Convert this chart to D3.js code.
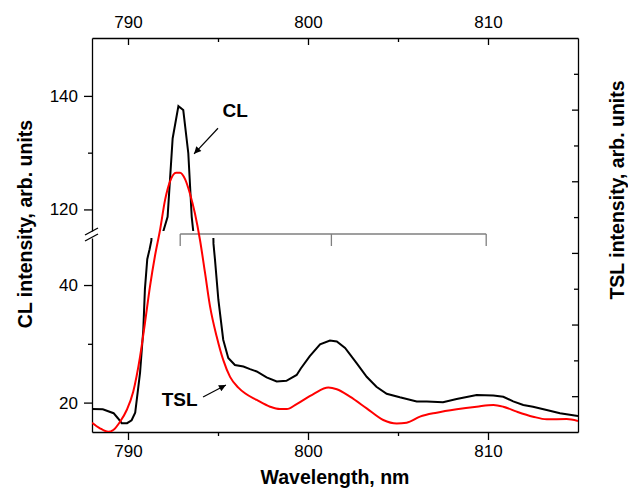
<!DOCTYPE html>
<html>
<head>
<meta charset="utf-8">
<script src="https://cdn.jsdelivr.net/npm/d3@7/dist/d3.min.js"></script>
<style>
  body { margin: 0; background: #fff; }
  text { font-family: "Liberation Sans", Arial, sans-serif; }
</style>
</head>
<body>
<script>
// CL spectrum (left, broken axis)
var clNm = [788.0, 788.6, 789.2, 789.45, 789.65, 789.95, 790.2, 790.4, 790.67, 790.85, 790.94, 791.07, 791.2, 791.3,
    791.9, 792.2, 792.48, 792.8, 793.07, 793.35, 793.54, 793.7, 794.65, 794.75, 794.83, 795.02, 795.29, 795.57, 795.94,
    796.41, 796.78, 797.15, 797.7, 798.26, 798.8, 799.37, 799.6, 800.1, 800.67, 801.22, 801.6, 802.06, 802.7, 803.26,
    803.8, 804.37, 805.1, 806.04, 806.6, 807.5, 808.26, 809.37, 810.3, 810.85, 811.4, 811.96, 812.5, 813.26, 814.0, 815.0];
var clInt = [18.9, 18.85, 18.2, 17.3, 16.5, 16.5, 17.0, 18.3, 25.1, 32.4, 39.3, 44.4, 46.1, 47.6,
    115.5, 118.7, 132.5, 138.2, 137.5, 129.9, 118.7, 113.9, 62, 47.0, 44.4, 37.5, 30.7, 27.6, 26.4,
    26.15, 25.7, 25.3, 24.3, 23.6, 23.7, 24.7, 25.8, 27.9, 29.9, 30.55, 30.4, 29.3, 26.7, 24.4,
    22.7, 21.5, 20.9, 20.2, 20.2, 20.07, 20.6, 21.3, 21.2, 21.0, 20.2, 19.6, 19.3, 18.75, 18.2, 17.7];

// TSL spectrum (right axis, unlabelled)
var tslNm = [788.0, 788.44, 788.9, 789.18, 789.56, 789.93, 790.29, 790.67, 790.94, 791.22, 791.5, 791.78, 792.06,
    792.33, 792.67, 792.89, 793.17, 793.44, 793.72, 794.0, 794.28, 794.56, 794.93, 795.29, 795.67, 796.13, 796.5,
    797.15, 797.89, 798.44, 798.82, 799.37, 800.3, 801.13, 801.6, 802.33, 803.26, 804.18, 804.93, 805.48, 806.22,
    807.15, 808.26, 809.37, 810.3, 810.85, 811.6, 812.5, 813.26, 814.37, 815.0];
var tslInt = [0.63, 0.552, 0.504, 0.528, 0.644, 0.807, 1.063, 1.552, 2.018, 2.53, 2.96, 3.32, 3.74,
    3.996, 4.12, 4.12, 4.03, 3.83, 3.55, 3.18, 2.72, 2.25, 1.83, 1.506, 1.27, 1.12, 1.04,
    0.947, 0.853, 0.82, 0.82, 0.89, 1.03, 1.12, 1.096, 0.993, 0.83, 0.668, 0.62, 0.63, 0.714,
    0.77, 0.817, 0.853, 0.877, 0.853, 0.784, 0.714, 0.677, 0.68, 0.654];

// peak markers (bracket) in nm
var peakNm = [792.9, 801.3, 809.9];

var xMajor = [790, 800, 810], xMinor = [795, 805];
var lowMajor = [20, 40], lowMinor = [30];
var highMajor = [120, 140], highMinor = [130];
var rightMajor = [1, 2, 3, 4, 5], rightMinor = [1.5, 2.5, 3.5, 4.5, 5.5];

var W = 628, H = 494;
var pLeft = 92, pRight = 578, pTop = 38, pBottom = 432;
var breakLow = 238, breakHigh = 231;

var svg = d3.select("body").append("svg").attr("width", W).attr("height", H);

var x = d3.scaleLinear().domain([788, 815]).range([pLeft, pRight]);
var yLow = d3.scaleLinear().domain([15, 48]).range([pBottom, breakLow]);
var yHigh = d3.scaleLinear().domain([116.2, 150.2]).range([breakHigh, pTop]);
var yR = d3.scaleLinear().domain([0.5, 6]).range([pBottom, pTop]);

var defs = svg.append("defs");
defs.append("clipPath").attr("id", "clipLow").append("rect")
    .attr("x", pLeft).attr("y", breakLow).attr("width", pRight - pLeft).attr("height", pBottom - breakLow);
defs.append("clipPath").attr("id", "clipHigh").append("rect")
    .attr("x", pLeft).attr("y", pTop).attr("width", pRight - pLeft).attr("height", breakHigh - pTop);
defs.append("clipPath").attr("id", "clipAll").append("rect")
    .attr("x", pLeft).attr("y", pTop).attr("width", pRight - pLeft).attr("height", pBottom - pTop);
defs.append("marker").attr("id", "arrow")
    .attr("viewBox", "0 0 10 10").attr("refX", 10).attr("refY", 5)
    .attr("markerWidth", 9).attr("markerHeight", 7).attr("markerUnits", "userSpaceOnUse")
    .attr("orient", "auto")
  .append("path").attr("d", "M0,0L10,5L0,10z").attr("fill", "#000");

var cl = clNm.map(function(d, i) { return [d, clInt[i]]; });
var tsl = tslNm.map(function(d, i) { return [d, tslInt[i]]; });

// axes
function axisStyle(g) {
    g.selectAll("path, line").attr("stroke", "#000").attr("stroke-width", 1.3);
    g.selectAll("text").style("font-size", "17px").attr("fill", "#000");
}

svg.append("g").attr("transform", "translate(0," + pBottom + ")")
    .call(d3.axisBottom(x).tickValues(xMajor).tickFormat(d3.format("d")).tickSize(8).tickPadding(5).tickSizeOuter(0))
    .call(axisStyle);
svg.append("g").attr("transform", "translate(0," + pBottom + ")")
    .call(d3.axisBottom(x).tickValues(xMinor).tickFormat("").tickSize(4).tickSizeOuter(0))
    .call(axisStyle).select(".domain").remove();

svg.append("g").attr("transform", "translate(0," + pTop + ")")
    .call(d3.axisTop(x).tickValues(xMajor).tickFormat(d3.format("d")).tickSize(-7).tickPadding(10).tickSizeOuter(0))
    .call(axisStyle);
svg.append("g").attr("transform", "translate(0," + pTop + ")")
    .call(d3.axisTop(x).tickValues(xMinor).tickFormat("").tickSize(-4).tickSizeOuter(0))
    .call(axisStyle).select(".domain").remove();

[[yLow, lowMajor, lowMinor], [yHigh, highMajor, highMinor]].forEach(function(a) {
    svg.append("g").attr("transform", "translate(" + pLeft + ",0)")
        .call(d3.axisLeft(a[0]).tickValues(a[1]).tickFormat(d3.format("d")).tickSize(8).tickPadding(6).tickSizeOuter(0))
        .call(axisStyle);
    svg.append("g").attr("transform", "translate(" + pLeft + ",0)")
        .call(d3.axisLeft(a[0]).tickValues(a[2]).tickFormat("").tickSize(4).tickSizeOuter(0))
        .call(axisStyle).select(".domain").remove();
});

svg.append("g").attr("transform", "translate(" + pRight + ",0)")
    .call(d3.axisRight(yR).tickValues(rightMajor).tickFormat("").tickSize(-6).tickSizeOuter(0))
    .call(axisStyle);
svg.append("g").attr("transform", "translate(" + pRight + ",0)")
    .call(d3.axisRight(yR).tickValues(rightMinor).tickFormat("").tickSize(-4).tickSizeOuter(0))
    .call(axisStyle).select(".domain").remove();

// break marks on left axis
var brk = svg.append("g").attr("stroke", "#000").attr("stroke-width", 1.3);
[0, 6].forEach(function(o) {
    brk.append("line").attr("x1", pLeft - 7).attr("x2", pLeft + 6)
        .attr("y1", breakLow - 3 + o).attr("y2", breakHigh - 3 + o);
});

// CL curve: drawn once per axis segment
function clLine(yScale) {
    return d3.line().x(function(d) { return x(d[0]); }).y(function(d) { return yScale(d[1]); });
}
svg.append("path").datum(cl).attr("clip-path", "url(#clipLow)")
    .attr("d", clLine(yLow)).attr("fill", "none").attr("stroke", "#000").attr("stroke-width", 2);
svg.append("path").datum(cl).attr("clip-path", "url(#clipHigh)")
    .attr("d", clLine(yHigh)).attr("fill", "none").attr("stroke", "#000").attr("stroke-width", 2);

// peak bracket
var bracketY = 234;
var br = svg.append("g").attr("stroke", "#7f7f7f").attr("stroke-width", 1.3).attr("fill", "none");
br.append("line").attr("x1", x(peakNm[0])).attr("x2", x(peakNm[peakNm.length - 1]))
    .attr("y1", bracketY).attr("y2", bracketY);
br.selectAll(".tk").data(peakNm).enter().append("line")
    .attr("x1", function(d) { return x(d); }).attr("x2", function(d) { return x(d); })
    .attr("y1", bracketY).attr("y2", bracketY + 12);

// TSL curve
svg.append("path").datum(tsl).attr("clip-path", "url(#clipAll)")
    .attr("d", d3.line().curve(d3.curveMonotoneX)
        .x(function(d) { return x(d[0]); }).y(function(d) { return yR(d[1]); }))
    .attr("fill", "none").attr("stroke", "#ff0000").attr("stroke-width", 2);

// annotations
svg.append("line").attr("x1", x(795.0)).attr("y1", yHigh(134.3)).attr("x2", x(793.67)).attr("y2", yHigh(129.8))
    .attr("stroke", "#000").attr("stroke-width", 1.2).attr("marker-end", "url(#arrow)");
svg.append("text").attr("x", x(795.25)).attr("y", yHigh(136.3))
    .style("font-size", "19px").style("font-weight", "bold").text("CL");

svg.append("line").attr("x1", x(794.17)).attr("y1", yLow(20.95)).attr("x2", x(795.44)).attr("y2", yLow(23.0))
    .attr("stroke", "#000").attr("stroke-width", 1.2).attr("marker-end", "url(#arrow)");
svg.append("text").attr("x", x(791.87)).attr("y", yLow(19.5))
    .style("font-size", "19px").style("font-weight", "bold").text("TSL");

// axis titles
svg.append("text").attr("x", (pLeft + pRight) / 2).attr("y", 484).attr("text-anchor", "middle")
    .style("font-size", "19.5px").style("font-weight", "bold").text("Wavelength, nm");
svg.append("text").attr("transform", "translate(31.5,224) rotate(-90)").attr("text-anchor", "middle")
    .style("font-size", "19.5px").style("font-weight", "bold").text("CL intensity, arb. units");
svg.append("text").attr("transform", "translate(623.5,190) rotate(-90)").attr("text-anchor", "middle")
    .style("font-size", "19.5px").style("font-weight", "bold").text("TSL intensity, arb. units");
</script>
</body>
</html>
